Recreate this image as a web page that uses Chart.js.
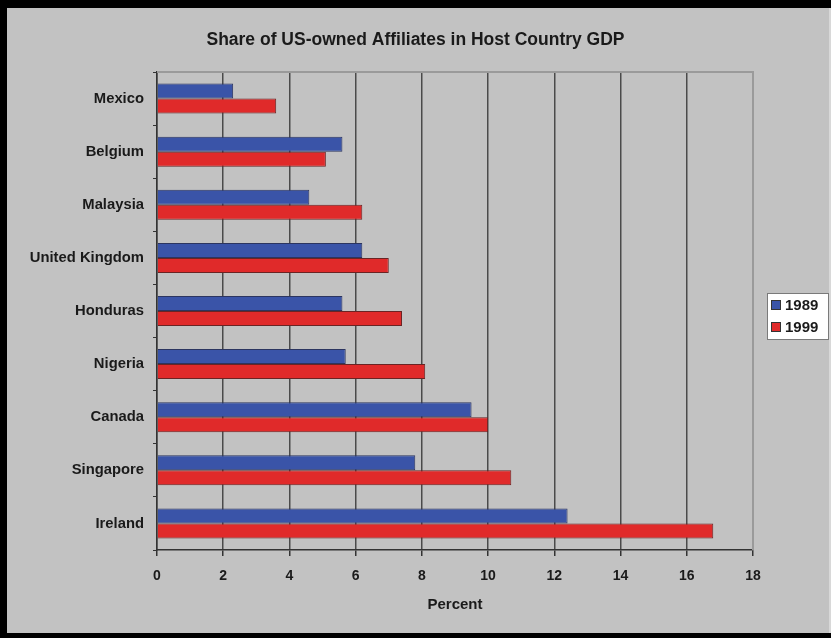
<!DOCTYPE html>
<html>
<head>
<meta charset="utf-8">
<script src="https://cdn.jsdelivr.net/npm/chart.js@4/dist/chart.umd.min.js"></script>
<style>
  html, body { margin: 0; padding: 0; background: #000; }
  #wrap { position: relative; width: 831px; height: 638px; }
  canvas { display: block; }
</style>
</head>
<body>
<div id="wrap"><canvas id="c" width="831" height="638"></canvas></div>
<script>
const chartTitle = "Share of US-owned Affiliates in Host Country GDP";
const categories = ["Mexico", "Belgium", "Malaysia", "United Kingdom", "Honduras", "Nigeria", "Canada", "Singapore", "Ireland"];
const seriesNames = ["1989", "1999"];
const values1989 = [2.3, 5.6, 4.6, 6.2, 5.6, 5.7, 9.5, 7.8, 12.4];
const values1999 = [3.6, 5.1, 6.2, 7.0, 7.4, 8.1, 10.0, 10.7, 16.8];
const xAxisTitle = "Percent";
const xMin = 0, xMax = 18, xStep = 2;

const BG = '#c2c2c2';
const FONT = '"Liberation Sans", Arial, sans-serif';
const colors = ['#3a54a8', '#e02a2a'];
const borders = ['#2c3560', '#6a2424'];

const framePlugin = {
  id: 'frame',
  beforeDraw(chart) {
    const ctx = chart.ctx;
    ctx.save();
    ctx.fillStyle = '#000';
    ctx.fillRect(0, 0, chart.width, chart.height);
    ctx.fillStyle = BG;
    ctx.fillRect(7, 8, chart.width - 7, chart.height - 8 - 5);
    ctx.fillStyle = '#d8d8d8';
    ctx.fillRect(chart.width - 2, 8, 2, chart.height - 13);
    ctx.restore();
  },
  afterDatasetsDraw(chart) {
    const ctx = chart.ctx;
    const a = chart.chartArea;
    ctx.save();
    ctx.strokeStyle = '#9a9a9a';
    ctx.lineWidth = 2;
    ctx.beginPath();
    ctx.moveTo(a.left, a.top);
    ctx.lineTo(a.right, a.top);
    ctx.lineTo(a.right, a.bottom);
    ctx.stroke();
    ctx.restore();
  },
  afterDraw(chart) {
    const ctx = chart.ctx;
    const x = 767, y = 293, w = 62, h = 47;
    ctx.save();
    ctx.fillStyle = '#ffffff';
    ctx.fillRect(x, y, w, h);
    ctx.strokeStyle = '#7a7a7a';
    ctx.lineWidth = 1;
    ctx.strokeRect(x + 0.5, y + 0.5, w - 1, h - 1);
    ctx.font = 'bold 15px ' + FONT;
    ctx.textBaseline = 'middle';
    ctx.textAlign = 'left';
    chart.data.datasets.forEach((ds, i) => {
      const cy = y + 12 + i * 22;
      ctx.fillStyle = ds.backgroundColor;
      ctx.fillRect(x + 4, cy - 5, 10, 10);
      ctx.strokeStyle = '#333';
      ctx.strokeRect(x + 4.5, cy - 4.5, 9, 9);
      ctx.fillStyle = '#1a1a1a';
      ctx.fillText(ds.label, x + 18, cy + 1);
    });
    ctx.restore();
  }
};

new Chart(document.getElementById('c'), {
  type: 'bar',
  data: {
    labels: categories,
    datasets: [
      { label: seriesNames[0], data: values1989, backgroundColor: colors[0], borderColor: borders[0], borderWidth: 1 },
      { label: seriesNames[1], data: values1999, backgroundColor: colors[1], borderColor: borders[1], borderWidth: 1 }
    ]
  },
  options: {
    indexAxis: 'y',
    responsive: false,
    animation: false,
    devicePixelRatio: 1,
    layout: { padding: { left: 0, right: 0, top: 0, bottom: 0 } },
    datasets: { bar: { categoryPercentage: 0.565, barPercentage: 1.0 } },
    plugins: {
      legend: { display: false },
      tooltip: { enabled: false },
      title: {
        display: true,
        text: chartTitle,
        color: '#1a1a1a',
        font: { family: FONT, size: 17.5, weight: 'bold', lineHeight: 1.2 },
        padding: { top: 30, bottom: 21 }
      }
    },
    scales: {
      x: {
        min: xMin, max: xMax,
        ticks: { stepSize: xStep, color: '#1a1a1a', font: { family: FONT, size: 14, weight: 'bold' }, padding: 12 },
        grid: {
          color: (c) => (c.tick && c.tick.value === xMax) ? '#9a9a9a' : '#4a4a4a',
          lineWidth: 1.5,
          tickColor: '#333',
          tickLength: 6,
          drawOnChartArea: true
        },
        border: { display: true, color: '#333', width: 1.5 },
        title: { display: true, text: xAxisTitle, color: '#1a1a1a', font: { family: FONT, size: 15, weight: 'bold', lineHeight: 1.2 }, padding: { top: 0, bottom: 24 } },
        afterFit: (s) => { s.height = 88; }
      },
      y: {
        ticks: { color: '#1a1a1a', font: { family: FONT, size: 14.8, weight: 'bold' }, padding: 9 },
        grid: { drawOnChartArea: false, drawTicks: true, tickLength: 4, color: '#333', offset: true },
        border: { display: true, color: '#333', width: 1.5 },
        afterFit: (s) => { s.width = 157; }
      },
      yRight: {
        type: 'linear',
        position: 'right',
        display: true,
        ticks: { display: false },
        grid: { display: false, drawTicks: false },
        border: { display: false },
        afterFit: (s) => { s.width = 78; }
      }
    }
  },
  plugins: [framePlugin]
});
</script>
</body>
</html>
